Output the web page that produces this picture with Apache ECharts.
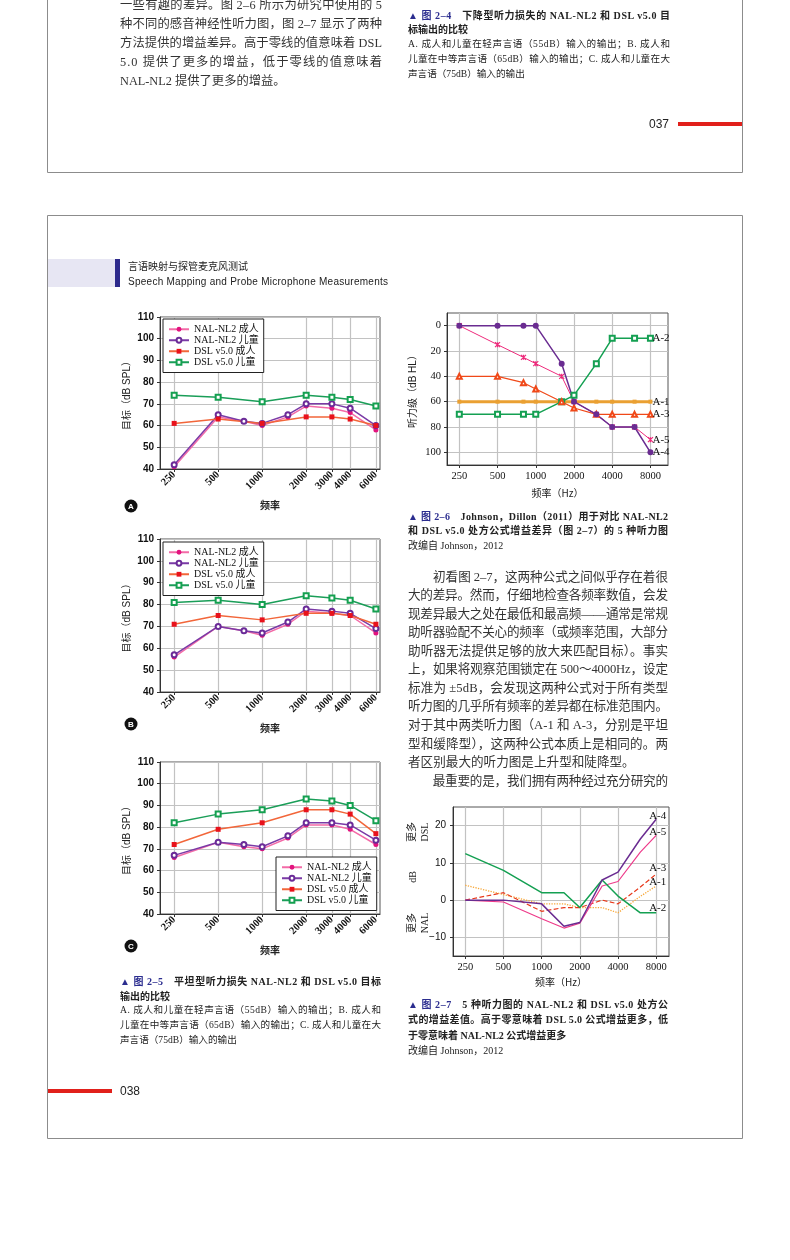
<!DOCTYPE html>
<html><head><meta charset="utf-8">
<script src="https://cdn.jsdelivr.net/npm/echarts@6/dist/echarts.min.js"></script>
<style>
html,body{margin:0;padding:0;background:#fff;}
#page{position:relative;width:790px;height:1260px;overflow:hidden;background:#fff;}
#chart{position:absolute;left:0;top:0;width:790px;height:1260px;}
.t{position:absolute;white-space:nowrap;font-family:"Liberation Serif","Noto Sans CJK SC",serif;color:#222;z-index:2;}
.t > span{display:inline-block;}
.s{font-family:"Liberation Sans","Noto Sans CJK SC",sans-serif;}
.bd{font-weight:bold;}
.nv{color:#2b2d8f;}
.body{color:#333;}
</style>
</head><body>
<div id="page"><div id="chart"></div></div>
<script>
// ---------------- data ----------------
const freqNAL = [250, 500, 750, 1000, 1500, 2000, 3000, 4000, 6000];
const freqDSL = [250, 500, 1000, 2000, 3000, 4000, 6000];
const ticksFig25 = [250, 500, 1000, 2000, 3000, 4000, 6000];
const seriesNames25 = ['NAL-NL2 成人', 'NAL-NL2 儿童', 'DSL v5.0 成人', 'DSL v5.0 儿童'];

const nalAdultA = [41, 64, 62, 60, 64, 69, 68, 66, 58];
const nalChildA = [42, 65, 62, 61, 65, 70, 70, 68, 60];
const dslAdultA = [61, 63, 61, 64, 64, 63, 60];
const dslChildA = [74, 73, 71, 74, 73, 72, 69];

const nalAdultB = [56, 70, 68, 66, 71, 77, 76, 75, 67];
const nalChildB = [57, 70, 68, 67, 72, 78, 77, 76, 69];
const dslAdultB = [71, 75, 73, 76, 76, 75, 71];
const dslChildB = [81, 82, 80, 84, 83, 82, 78];

const nalAdultC = [66, 73, 71, 70, 75, 81, 81, 79, 72];
const nalChildC = [67, 73, 72, 71, 76, 82, 82, 81, 74];
const dslAdultC = [72, 79, 82, 88, 88, 86, 77];
const dslChildC = [82, 86, 88, 93, 92, 90, 83];

const freqAud = [250, 500, 800, 1000, 1600, 2000, 3000, 4000, 6000, 8000];
const ticksAud = [250, 500, 1000, 2000, 4000, 8000];
const audNames = ['A-1', 'A-2', 'A-3', 'A-5', 'A-4'];
const audA1 = [60, 60, 60, 60, 60, 60, 60, 60, 60, 60];
const audA2 = [70, 70, 70, 70, 60, 55, 30, 10, 10, 10];
const audA3 = [40, 40, 45, 50, 60, 65, 70, 70, 70, 70];
const audA5 = [0, 15, 25, 30, 40, 60, 70, 80, 80, 90];
const audA4 = [0, 0, 0, 0, 30, 60, 70, 80, 80, 100];
const audTicksY = [0, 20, 40, 60, 80, 100];

const freqDiff = [250, 500, 1000, 1500, 2000, 3000, 4000, 6000, 8000];
const diffA1 = [4, 1.5, -1, -1, -2, -2, -3.4, 1, 3.8];
const diffA2 = [12.5, 8, 2, 2, -2, 5.4, 1.1, -3.4, -3.4];
const diffA3 = [0, 2, -3, -2, -2, 0, -1, 3.5, 7];
const diffA4 = [0, 0, -1, -7, -6, 5.4, 7.5, 16.4, 21.7];
const diffA5 = [0, -0.5, -5, -7.5, -6.2, 3.8, 5, 12.9, 17.4];
const diffTicksY = [-10, 0, 10, 20];

// ---------------- page text ----------------
const page = document.getElementById('page');
function addLine(x, y, w, fs, html, cls) {
  const d = document.createElement('div');
  d.className = 't ' + (cls || '');
  d.style.left = x + 'px';
  d.style.top = (y - fs * 0.75) + 'px';
  d.style.fontSize = fs + 'px';
  d.style.lineHeight = (fs * 1.5) + 'px';
  d.innerHTML = '<span>' + html + '</span>';
  page.appendChild(d);
  if (w) {
    const s = d.firstChild;
    const nat = s.getBoundingClientRect().width;
    const n = [...s.textContent].length;
    if (n > 1) s.style.letterSpacing = ((w - nat) / (n - 1)) + 'px';
  }
}
// top page
addLine(120, 5, 262, 12.3, '一些有趣的差异。图 2–6 所示为研究中使用的 5', 'body');
addLine(120, 24, 262, 12.3, '种不同的感音神经性听力图，图 2–7 显示了两种', 'body');
addLine(120, 43, 262, 12.3, '方法提供的增益差异。高于零线的值意味着 DSL', 'body');
addLine(120, 62, 262, 12.3, '5.0 提供了更多的增益，低于零线的值意味着', 'body');
addLine(120, 81, 0, 12.3, 'NAL-NL2 提供了更多的增益。', 'body');
addLine(408, 15, 262, 10, '<span class="nv">▲ 图 2–4</span>　下降型听力损失的 NAL-NL2 和 DSL v5.0 目', 'bd');
addLine(408, 29, 0, 10, '标输出的比较', 'bd');
addLine(408, 44, 262, 9.6, 'A. 成人和儿童在轻声言语（55dB）输入的输出；B. 成人和');
addLine(408, 59, 262, 9.6, '儿童在中等声言语（65dB）输入的输出；C. 成人和儿童在大');
addLine(408, 74, 0, 9.6, '声言语（75dB）输入的输出');
addLine(649, 124, 0, 12, '037', 's');
// header
addLine(128, 266, 0, 10, '言语映射与探管麦克风测试', 's');
addLine(128, 281, 260, 10, 'Speech Mapping and Probe Microphone Measurements', 's');
// caption 2-5
addLine(120, 981, 261, 10, '<span class="nv">▲ 图 2–5</span>　平坦型听力损失 NAL-NL2 和 DSL v5.0 目标', 'bd');
addLine(120, 996, 0, 10, '输出的比较', 'bd');
addLine(120, 1010, 261, 9.6, 'A. 成人和儿童在轻声言语（55dB）输入的输出；B. 成人和');
addLine(120, 1025, 261, 9.6, '儿童在中等声言语（65dB）输入的输出；C. 成人和儿童在大');
addLine(120, 1040, 0, 9.6, '声言语（75dB）输入的输出');
// caption 2-6
addLine(408, 516, 260, 10, '<span class="nv">▲ 图 2–6</span>　Johnson，Dillon（2011）用于对比 NAL-NL2', 'bd');
addLine(408, 530, 260, 10, '和 DSL v5.0 处方公式增益差异（图 2–7）的 5 种听力图', 'bd');
addLine(408, 545, 0, 10, '改编自 Johnson，2012');
// body text
const bodyLines = [
  ['　　初看图 2–7，这两种公式之间似乎存在着很', 1],
  ['大的差异。然而，仔细地检查各频率数值，会发', 1],
  ['现差异最大之处在最低和最高频——通常是常规', 1],
  ['助听器验配不关心的频率（或频率范围，大部分', 1],
  ['助听器无法提供足够的放大来匹配目标）。事实', 1],
  ['上，如果将观察范围锁定在 500～4000Hz，设定', 1],
  ['标准为 ±5dB，会发现这两种公式对于所有类型', 1],
  ['听力图的几乎所有频率的差异都在标准范围内。', 1],
  ['对于其中两类听力图（A-1 和 A-3，分别是平坦', 1],
  ['型和缓降型），这两种公式本质上是相同的。两', 1],
  ['者区别最大的听力图是上升型和陡降型。', 0],
  ['　　最重要的是，我们拥有两种经过充分研究的', 1]
];
bodyLines.forEach((l, i) => addLine(408, 577 + i * 18.55, l[1] ? 260 : 0, 12.6, l[0], 'body'));
// caption 2-7
addLine(408, 1004, 260, 10, '<span class="nv">▲ 图 2–7</span>　5 种听力图的 NAL-NL2 和 DSL v5.0 处方公', 'bd');
addLine(408, 1019, 260, 10, '式的增益差值。高于零意味着 DSL 5.0 公式增益更多，低', 'bd');
addLine(408, 1035, 0, 10, '于零意味着 NAL-NL2 公式增益更多', 'bd');
addLine(408, 1050, 0, 10, '改编自 Johnson，2012');
addLine(120, 1091, 0, 12, '038', 's');

// ---------------- charts ----------------
const F = Math.log2;
const xy = (fs, vs) => fs.map((f, i) => [F(f), vs[i]]);
const SERIF = '"Liberation Serif", "Noto Sans CJK SC"';
const SANS = '"Liberation Sans", "Noto Sans CJK SC"';
const CJK = '"Noto Sans CJK SC"';
const GRIDC = '#c2c2c2';
const AX = '#333';

const grids = [
  {left: 160, top: 317, width: 220, height: 152},
  {left: 160, top: 539, width: 220, height: 153},
  {left: 160, top: 762, width: 220, height: 152},
  {left: 447, top: 313, width: 221, height: 152},
  {left: 453, top: 807, width: 216, height: 149}
].map(g => Object.assign(g, {show: true, borderColor: '#555', borderWidth: 1, backgroundColor: 'transparent'}));

function x25(gi) {
  const cv = ticksFig25.map(F);
  return {
    type: 'value', gridIndex: gi, min: F(200), max: F(6400),
    axisLine: {show: true, onZero: false, lineStyle: {color: AX, width: 1}},
    axisTick: {show: true, customValues: cv, length: 3, lineStyle: {color: AX}},
    axisLabel: {customValues: cv, formatter: v => String(Math.round(Math.pow(2, v))), rotate: 45,
      fontFamily: SERIF, fontSize: 10.5, fontWeight: 'bold', color: '#111', margin: 4},
    splitLine: {show: true, lineStyle: {color: GRIDC, width: 1.2}},
    name: '频率', nameLocation: 'middle', nameGap: 31,
    nameTextStyle: {fontFamily: CJK, fontSize: 10, fontWeight: 'bold', color: '#222'}
  };
}
function y25(gi) {
  return {
    type: 'value', gridIndex: gi, min: 40, max: 110, interval: 10,
    axisLine: {show: true, lineStyle: {color: AX, width: 1}},
    axisTick: {show: true, length: 3, lineStyle: {color: AX}},
    axisLabel: {fontFamily: SANS, fontSize: 10, fontWeight: 'bold', color: '#111', margin: 6},
    splitLine: {show: true, lineStyle: {color: GRIDC, width: 1.2}},
    name: '目标（dB SPL）', nameLocation: 'middle', nameGap: 28, nameRotate: 90,
    nameTextStyle: {fontFamily: SANS, fontSize: 10, color: '#222'}
  };
}
function series25(gi, nalA, nalC, dslA, dslC) {
  return [
    {name: seriesNames25[0], type: 'line', xAxisIndex: gi, yAxisIndex: gi, data: xy(freqNAL, nalA),
      symbol: 'circle', symbolSize: 5, lineStyle: {color: '#f36ba7', width: 1.5},
      itemStyle: {color: '#e2137e'}},
    {name: seriesNames25[1], type: 'line', xAxisIndex: gi, yAxisIndex: gi, data: xy(freqNAL, nalC),
      symbol: 'emptyCircle', symbolSize: 5, lineStyle: {color: '#7a3aa6', width: 1.5},
      itemStyle: {color: '#6b2b98', borderWidth: 1.2}},
    {name: seriesNames25[2], type: 'line', xAxisIndex: gi, yAxisIndex: gi, data: xy(freqDSL, dslA),
      symbol: 'rect', symbolSize: 5, lineStyle: {color: '#f2663a', width: 1.5},
      itemStyle: {color: '#e8121c'}},
    {name: seriesNames25[3], type: 'line', xAxisIndex: gi, yAxisIndex: gi, data: xy(freqDSL, dslC),
      symbol: 'emptyRect', symbolSize: 5, lineStyle: {color: '#1a9e58', width: 1.5},
      itemStyle: {color: '#14a050', borderWidth: 1}}
  ];
}
const legendBase = {
  orient: 'vertical', backgroundColor: '#fff', borderColor: '#222', borderWidth: 1,
  padding: [5, 5, 5, 5], itemGap: 0.5, itemWidth: 20, itemHeight: 6, selectedMode: false,
  textStyle: {fontFamily: SERIF, fontSize: 10, color: '#111', lineHeight: 10.5},
  data: seriesNames25
};

// fig 2-6
const audColors = {'A-1': '#eaa032', 'A-2': '#14a052', 'A-3': '#f04818', 'A-5': '#ee2a7b', 'A-4': '#6a2c91'};
const audStyle = {
  'A-1': {symbol: 'rect', symbolSize: 4, width: 3},
  'A-2': {symbol: 'emptyRect', symbolSize: 5, width: 1.5},
  'A-3': {symbol: 'emptyTriangle', symbolSize: 5, width: 1.2},
  'A-5': {symbol: 'path://M0,0L10,10M10,0L0,10M5,0L5,10', symbolSize: 5, width: 1},
  'A-4': {symbol: 'circle', symbolSize: 6, width: 1.5}
};
const audData = {'A-1': audA1, 'A-2': audA2, 'A-3': audA3, 'A-5': audA5, 'A-4': audA4};
const audSeries = audNames.map(n => ({
  name: n, type: 'line', xAxisIndex: 3, yAxisIndex: 3, data: xy(freqAud, audData[n]),
  symbol: audStyle[n].symbol, symbolSize: audStyle[n].symbolSize,
  lineStyle: {color: audColors[n], width: audStyle[n].width},
  itemStyle: n === 'A-5' ? {color: audColors[n], borderColor: audColors[n], borderWidth: 1.2}
                         : {color: audColors[n], borderWidth: 1},
  endLabel: {show: true, formatter: '{a}', distance: 2, fontFamily: SERIF, fontSize: 11, color: '#111'}
}));

// fig 2-7
const diffData = {'A-1': diffA1, 'A-2': diffA2, 'A-3': diffA3, 'A-4': diffA4, 'A-5': diffA5};
const diffStyle = {
  'A-1': {color: '#f7a83a', type: 'dotted', width: 1.3, off: [-15, -4]},
  'A-3': {color: '#e8381a', type: 'dashed', width: 1.2, off: [-15, -6]},
  'A-5': {color: '#ee3a8a', type: 'solid', width: 1.2, off: [-15, -3]},
  'A-2': {color: '#14a052', type: 'solid', width: 1.5, off: [-15, -5]},
  'A-4': {color: '#6a2c91', type: 'solid', width: 1.5, off: [-15, -3]}
};
const diffSeries = ['A-1', 'A-3', 'A-5', 'A-2', 'A-4'].map(n => ({
  name: n, type: 'line', xAxisIndex: 4, yAxisIndex: 4, data: xy(freqDiff, diffData[n]),
  symbol: 'none', showSymbol: false,
  lineStyle: {color: diffStyle[n].color, type: diffStyle[n].type, width: diffStyle[n].width},
  endLabel: {show: true, formatter: '{a}', offset: diffStyle[n].off, fontFamily: SERIF, fontSize: 11, color: '#111'}
}));

const grayLine = {stroke: '#8c8c8c', lineWidth: 1};
const badge = (cy, letter) => [
  {type: 'circle', shape: {cx: 131, cy: cy, r: 6.5}, style: {fill: '#111'}},
  {type: 'text', x: 131, y: cy + 0.5, style: {text: letter, fill: '#fff', font: 'bold 8px "Liberation Sans"', align: 'center', verticalAlign: 'middle'}}
];

const option = {
  animation: false,
  textStyle: {fontFamily: SERIF},
  grid: grids,
  legend: [
    Object.assign({}, legendBase, {left: 163, top: 319}),
    Object.assign({}, legendBase, {left: 163, top: 542}),
    Object.assign({}, legendBase, {left: 276, top: 857})
  ],
  xAxis: [x25(0), x25(1), x25(2),
    {
      type: 'value', gridIndex: 3, min: F(200), max: F(11000),
      axisLine: {show: true, onZero: false, lineStyle: {color: AX}},
      axisTick: {show: true, customValues: ticksAud.map(F), length: 3, lineStyle: {color: AX}},
      axisLabel: {customValues: ticksAud.map(F), formatter: v => String(Math.round(Math.pow(2, v))),
        fontFamily: SERIF, fontSize: 10.5, color: '#111', margin: 6},
      splitLine: {show: true, lineStyle: {color: GRIDC, width: 1.2}},
      name: '频率（Hz）', nameLocation: 'middle', nameGap: 23,
      nameTextStyle: {fontFamily: CJK, fontSize: 10, color: '#222'}
    },
    {
      type: 'value', gridIndex: 4, min: F(200), max: F(10100),
      axisLine: {show: true, onZero: false, lineStyle: {color: AX}},
      axisTick: {show: true, customValues: ticksAud.map(F), length: 3, lineStyle: {color: AX}},
      axisLabel: {customValues: ticksAud.map(F), formatter: v => String(Math.round(Math.pow(2, v))),
        fontFamily: SERIF, fontSize: 10.5, color: '#111', margin: 6},
      splitLine: {show: true, lineStyle: {color: GRIDC, width: 1.2}},
      name: '频率（Hz）', nameLocation: 'middle', nameGap: 21,
      nameTextStyle: {fontFamily: CJK, fontSize: 10, color: '#222'}
    }
  ],
  yAxis: [y25(0), y25(1), y25(2),
    {
      type: 'value', gridIndex: 3, min: -10, max: 110, inverse: true,
      axisLine: {show: true, onZero: false, lineStyle: {color: AX}},
      axisTick: {show: true, customValues: audTicksY, length: 3, lineStyle: {color: AX}},
      axisLabel: {customValues: audTicksY, fontFamily: SERIF, fontSize: 10.5, color: '#111', margin: 6},
      splitLine: {show: true, lineStyle: {color: GRIDC, width: 1.2}},
      name: '听力级（dB HL）', nameLocation: 'middle', nameGap: 29, nameRotate: 90,
      nameTextStyle: {fontFamily: SANS, fontSize: 10, color: '#222'}
    },
    {
      type: 'value', gridIndex: 4, min: -15, max: 25,
      axisLine: {show: true, onZero: false, lineStyle: {color: AX}},
      axisTick: {show: true, customValues: diffTicksY, length: 3, lineStyle: {color: AX}},
      axisLabel: {customValues: diffTicksY, formatter: v => v < 0 ? '−' + (-v) : String(v),
        fontFamily: SANS, fontSize: 10, color: '#111', margin: 7},
      splitLine: {show: true, lineStyle: {color: GRIDC, width: 1.2}}
    }
  ],
  series: [].concat(
    series25(0, nalAdultA, nalChildA, dslAdultA, dslChildA),
    series25(1, nalAdultB, nalChildB, dslAdultB, dslChildB),
    series25(2, nalAdultC, nalChildC, dslAdultC, dslChildC),
    audSeries, diffSeries
  ),
  graphic: [].concat([
    {type: 'line', shape: {x1: 47.5, y1: 0, x2: 47.5, y2: 172.5}, style: grayLine},
    {type: 'line', shape: {x1: 742.5, y1: 0, x2: 742.5, y2: 172.5}, style: grayLine},
    {type: 'line', shape: {x1: 47.5, y1: 172.5, x2: 742.5, y2: 172.5}, style: grayLine},
    {type: 'rect', shape: {x: 47.5, y: 215.5, width: 695, height: 923}, style: {fill: 'none', stroke: '#8c8c8c', lineWidth: 1}},
    {type: 'rect', shape: {x: 678, y: 122, width: 64, height: 4}, style: {fill: '#e1201b'}},
    {type: 'rect', shape: {x: 48, y: 1089, width: 64, height: 4}, style: {fill: '#e1201b'}},
    {type: 'rect', shape: {x: 48, y: 259, width: 67, height: 28}, style: {fill: '#e7e6f3'}},
    {type: 'rect', shape: {x: 115, y: 259, width: 5, height: 28}, style: {fill: '#2d2a8c'}},
    {type: 'text', x: 418.5, y: 832, rotation: Math.PI / 2, style: {text: '更多\nDSL', font: '10px "Liberation Serif", "Noto Sans CJK SC"', lineHeight: 13, fill: '#222', align: 'center', verticalAlign: 'middle'}},
    {type: 'text', x: 413, y: 877, rotation: Math.PI / 2, style: {text: 'dB', font: '10px "Liberation Serif"', fill: '#222', align: 'center', verticalAlign: 'middle'}},
    {type: 'text', x: 418.5, y: 923, rotation: Math.PI / 2, style: {text: '更多\nNAL', font: '10px "Liberation Serif", "Noto Sans CJK SC"', lineHeight: 13, fill: '#222', align: 'center', verticalAlign: 'middle'}}
  ], badge(506, 'A'), badge(724, 'B'), badge(946, 'C'))
};

const chart = echarts.init(document.getElementById('chart'), null, {renderer: 'canvas', width: 790, height: 1260});
chart.setOption(option);
</script>
</body></html>
